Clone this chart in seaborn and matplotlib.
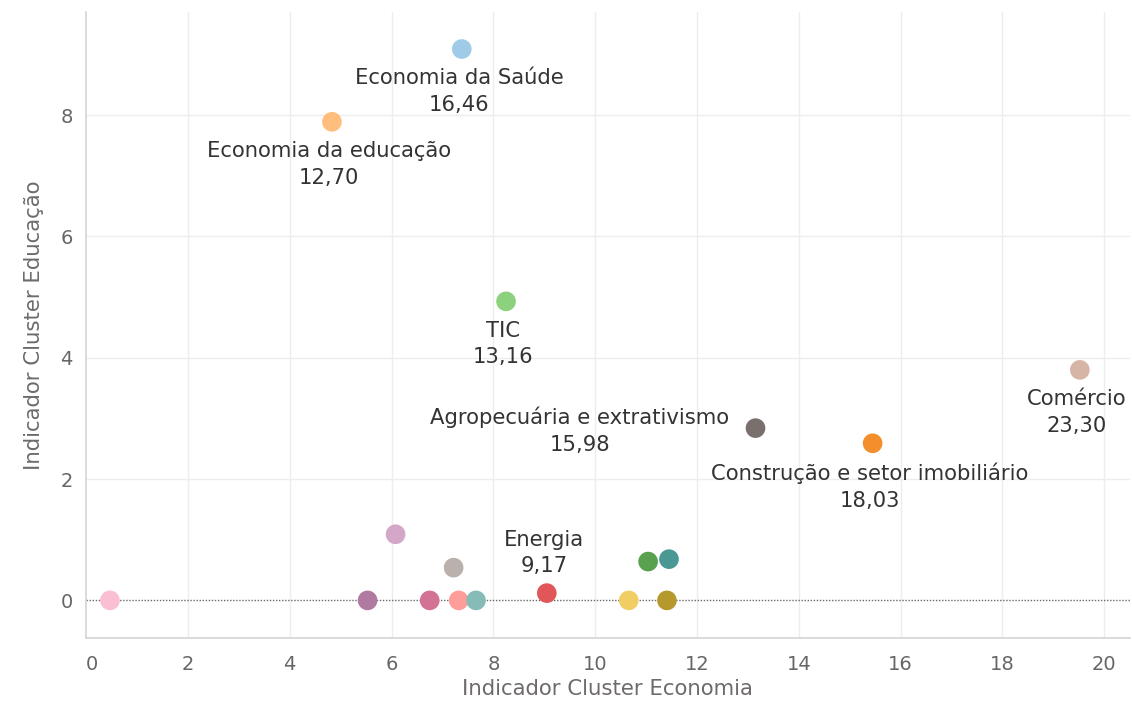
import matplotlib
matplotlib.use("Agg")
import matplotlib.pyplot as plt
import seaborn as sns
import pandas as pd

# ---- data ----
categorias = [
    "Economia da Saúde", "Economia da educação", "TIC",
    "Agropecuária e extrativismo", "Construção e setor imobiliário",
    "Comércio", "Energia",
    "Outro 1", "Outro 2", "Outro 3", "Outro 4", "Outro 5", "Outro 6",
    "Outro 7", "Outro 8", "Outro 9", "Outro 10", "Outro 11",
]
economia = [7.38, 4.83, 8.25, 13.15, 15.45, 19.52, 9.05,
            0.47, 6.08, 5.53, 7.22, 6.75, 7.32, 7.66, 10.66, 11.04, 11.45, 11.41]
educacao = [9.09, 7.89, 4.93, 2.84, 2.59, 3.80, 0.12,
            0.0, 1.09, 0.0, 0.54, 0.0, 0.0, 0.0, 0.0, 0.64, 0.68, 0.0]
valores = ["16,46", "12,70", "13,16", "15,98", "18,03", "23,30", "9,17",
           None, None, None, None, None, None, None, None, None, None, None]
cores = ["#a0cbe8", "#ffbe7d", "#8cd17d", "#79706e", "#f28e2b", "#d7b5a6", "#e15759",
         "#fabfd2", "#d4a6c8", "#b07aa1", "#bab0ac", "#d37295", "#ff9d9a", "#86bcb6",
         "#f1ce63", "#59a14f", "#499894", "#b6992d"]
posicao_rotulo = ["below", "below", "below", "left", "below", "below", "above",
                  None, None, None, None, None, None, None, None, None, None, None]
x_ticks = [0, 2, 4, 6, 8, 10, 12, 14, 16, 18, 20]
y_ticks = [0, 2, 4, 6, 8]

df = pd.DataFrame({"categoria": categorias, "economia": economia, "educacao": educacao})

sns.set_style("white")
plt.rcParams["font.family"] = ["DejaVu Sans"]

fig = plt.figure(figsize=(11.32, 7.07), dpi=100)
ax = fig.add_axes([0.076, 0.0976, 0.922, 0.8854])

ax.set_xlim(0, 20.5)
ax.set_ylim(-0.62, 9.70)

# grid
for t in x_ticks[1:]:
    ax.axvline(t, color="#ededed", lw=1.0, zorder=0)
for t in y_ticks[1:]:
    ax.axhline(t, color="#ededed", lw=1.0, zorder=0)
ax.axhline(0, color="#6a6a6a", lw=1.0, ls=(0, (1, 1.2)), zorder=1)

sns.scatterplot(data=df, x="economia", y="educacao", hue="categoria",
                palette=dict(zip(categorias, cores)), s=200, linewidth=0,
                legend=False, ax=ax, zorder=3)

for nome, x, y, v, pos in zip(categorias, economia, educacao, valores, posicao_rotulo):
    if v is None:
        continue
    txt = f"{nome}\n{v}"
    kw = dict(fontsize=15.2, color="#333333", linespacing=1.4,
              textcoords="offset points", annotation_clip=False, zorder=4)
    if pos == "below":
        ax.annotate(txt, (x, y), xytext=(-2, -14), ha="center", va="top",
                    multialignment="center", **kw)
    elif pos == "above":
        ax.annotate(txt, (x, y), xytext=(-2, 12), ha="center", va="bottom",
                    multialignment="center", **kw)
    elif pos == "left":
        ax.annotate(txt, (x, y), xytext=(-19, -2), ha="right", va="center",
                    multialignment="center", **kw)

ax.set_xticks(x_ticks)
ax.set_yticks(y_ticks)
ax.tick_params(axis="both", labelsize=14, colors="#666666", length=6,
               width=1, direction="out")
ax.tick_params(axis="x", pad=6)
ax.tick_params(axis="both", color="#d4d4d4")
ax.get_xticklabels()[0].set_horizontalalignment("left")
for s in ["top", "right"]:
    ax.spines[s].set_visible(False)
for s in ["left", "bottom"]:
    ax.spines[s].set_color("#d4d4d4")
    ax.spines[s].set_linewidth(1.2)

ax.set_xlabel("Indicador Cluster Economia", fontsize=15.3, color="#6e6a6a", labelpad=4)
ax.set_ylabel("Indicador Cluster Educação", fontsize=15.3, color="#6e6a6a", labelpad=12)

fig.savefig("out.png", dpi=100)
